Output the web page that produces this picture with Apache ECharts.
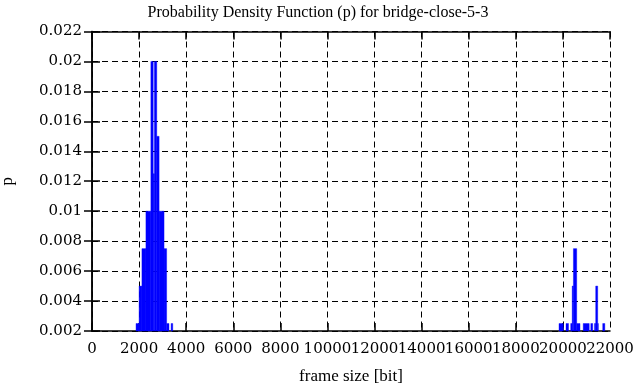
<!DOCTYPE html>
<html>
<head>
<meta charset="utf-8">
<script src="https://cdn.jsdelivr.net/npm/echarts@6/dist/echarts.min.js"></script>
<style>
html,body{margin:0;padding:0;background:#fff;}
#chart{width:636px;height:387px;}
</style>
</head>
<body>
<div id="chart"></div>
<script>
// Histogram bins: frame size range [bit] and probability density p
var binStart = [1870, 2000, 2120, 2290, 2500, 2600, 2650, 2750, 2850, 3060, 3170, 3360,
                19835, 20132, 20331, 20395, 20446, 20586, 20862, 21185, 21342, 21393, 21478, 21691];
var binEnd   = [2000, 2120, 2290, 2500, 2600, 2650, 2750, 2850, 3060, 3170, 3270, 3430,
                20017, 20238, 20395, 20446, 20586, 20726, 21117, 21266, 21393, 21478, 21504, 21780];
var pValues  = [0.0025, 0.005, 0.0075, 0.01, 0.02, 0.0125, 0.02, 0.015, 0.01, 0.0075, 0.0025, 0.0025,
                0.0025, 0.0025, 0.0025, 0.005, 0.0075, 0.0025, 0.0025, 0.0025, 0.0025, 0.005, 0.0025, 0.0025];

var titleText = 'Probability Density Function (p) for bridge-close-5-3';
var xName = 'frame size [bit]';
var yName = 'p';
var xMin = 0, xMax = 22000, xStep = 2000;
var yMin = 0.002, yMax = 0.022, yStep = 0.002;

var data = binStart.map(function (s, i) { return [s, binEnd[i], pValues[i]]; });

var tickFont = 'DejaVu Serif';
var textFont = 'Liberation Serif';
var gridDash = { color: '#000', width: 1, type: [6, 4] };
var axisLineStyle = { show: true, lineStyle: { color: '#000', width: 1.5 } };
var tickStyle = { show: true, inside: true, length: 8, lineStyle: { color: '#000', width: 1.5 } };
var xLabelBase = { fontFamily: tickFont, fontSize: 15, color: '#000', margin: 11, interval: 0, hideOverlap: false };

var chart = echarts.init(document.getElementById('chart'), null, { renderer: 'canvas' });
chart.setOption({
  animation: false,
  backgroundColor: '#fff',
  title: {
    text: titleText, left: 'center', top: 0,
    textStyle: { fontFamily: textFont, fontSize: 16, fontWeight: 'normal', color: '#000' }
  },
  grid: { left: 92, right: 26, top: 31.5, bottom: 56, containLabel: false, outerBoundsMode: 'none' },
  xAxis: [{
    type: 'value', min: xMin, max: xMax, interval: xStep, position: 'bottom',
    name: xName, nameLocation: 'middle', nameGap: 37,
    nameTextStyle: { fontFamily: textFont, fontSize: 17, color: '#000' },
    axisLine: axisLineStyle, axisTick: tickStyle,
    axisLabel: Object.assign({}, xLabelBase, { showMinLabel: true, showMaxLabel: false,
      formatter: function (v) { return v >= xMax ? '' : String(v); } }),
    splitLine: { show: true, lineStyle: gridDash }
  }, {
    type: 'value', min: xMin, max: xMax, interval: xStep, position: 'bottom',
    axisLine: { show: false }, axisTick: { show: false }, splitLine: { show: false },
    axisLabel: Object.assign({}, xLabelBase, { showMinLabel: false, showMaxLabel: true,
      formatter: function (v) { return v >= xMax ? String(v) : ''; } })
  }, {
    type: 'value', min: xMin, max: xMax, interval: xStep, position: 'top',
    axisLine: axisLineStyle, axisTick: tickStyle,
    axisLabel: { show: false }, splitLine: { show: false }
  }],
  yAxis: [{
    type: 'value', min: yMin, max: yMax, interval: yStep,
    name: yName, nameLocation: 'middle', nameGap: 76, nameRotate: 90,
    nameTextStyle: { fontFamily: textFont, fontSize: 17, color: '#000' },
    axisLine: axisLineStyle, axisTick: tickStyle,
    axisLabel: {
      fontFamily: tickFont, fontSize: 15, color: '#000', margin: 10,
      formatter: function (v) { return String(parseFloat(v.toFixed(4))); }
    },
    splitLine: { show: true, lineStyle: gridDash }
  }, {
    type: 'value', min: yMin, max: yMax, interval: yStep, position: 'right',
    axisLine: axisLineStyle, axisTick: tickStyle,
    axisLabel: { show: false }, splitLine: { show: false }
  }],
  series: [{
    type: 'custom',
    xAxisIndex: 0, yAxisIndex: 0,
    data: data,
    encode: { x: [0, 1], y: 2 },
    renderItem: function (params, api) {
      var p0 = api.coord([api.value(0), api.value(2)]);
      var p1 = api.coord([api.value(1), yMin]);
      return {
        type: 'rect',
        shape: { x: p0[0], y: p0[1], width: p1[0] - p0[0], height: p1[1] - p0[1] },
        style: { fill: '#0000ff', stroke: '#0000ff', lineWidth: 0.4 }
      };
    },
    z: 5
  }]
});
</script>
</body>
</html>
